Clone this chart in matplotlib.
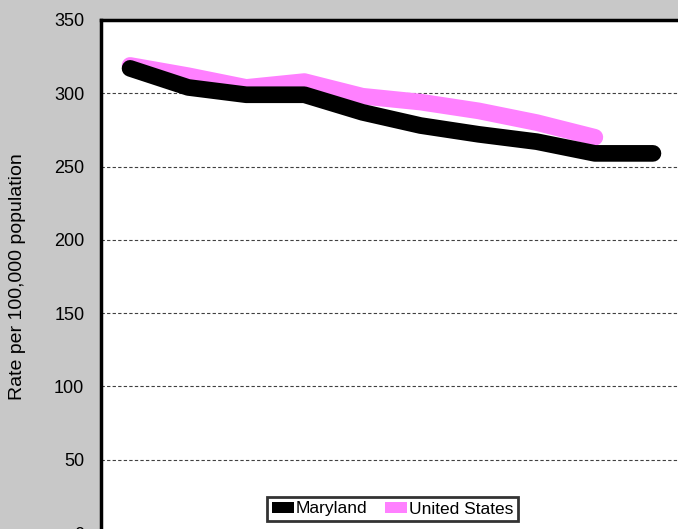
import numpy as np
from matplotlib import pyplot as plt
from matplotlib.patches import Patch

plt.rcParams['font.family'] = ['Liberation Sans', 'DejaVu Sans']

# rates per 100,000 (categories are unlabeled in the chart)
years = np.arange(10)
maryland = [317, 304, 299, 299, 287, 278, 272, 267, 259, 259]
us = [319, 312, 304, 308, 298, 294, 288, 280, 270]

bg = '#C8C8C8'
fig = plt.figure(figsize=(6.78, 5.29), dpi=100, facecolor=bg)
ax = fig.add_axes([101 / 678, -4 / 529, 581 / 678, 513 / 529])

ax.plot(years[:len(us)], us, color='#FF80FF', lw=12, label='United States',
        solid_capstyle='round', solid_joinstyle='round', zorder=3)
ax.plot(years, maryland, color='black', lw=12, label='Maryland',
        solid_capstyle='round', solid_joinstyle='round', zorder=4)

ax.set_xlim(-0.5, 9.5)
ax.set_ylim(0, 350)
ax.set_yticks(np.arange(0, 351, 50))
ax.set_xticks([])
ax.tick_params(axis='y', length=0, pad=12, labelsize=13)
ax.yaxis.grid(True, color='#404040', lw=0.8, linestyle=(0, (3, 2)))
ax.set_axisbelow(True)
for s in ax.spines.values():
    s.set_linewidth(2.5)
ax.spines['right'].set_visible(False)

ax.set_ylabel('Rate per 100,000 population', fontsize=14, labelpad=20)

# legend with square patches, Maryland first
handles = [Patch(facecolor='black', label='Maryland'),
           Patch(facecolor='#FF80FF', label='United States')]
leg = fig.legend(handles=handles, loc='center', bbox_to_anchor=(392.5 / 678, 1 - 509 / 529),
                 ncol=2, fontsize=12.5, frameon=True, fancybox=False,
                 edgecolor='black', handlelength=1.3, handleheight=0.6,
                 handletextpad=0.1, columnspacing=1.0, borderpad=0.25,
                 borderaxespad=0)
leg.get_frame().set_linewidth(2)

fig.savefig('out.png', dpi=100, facecolor=bg)
